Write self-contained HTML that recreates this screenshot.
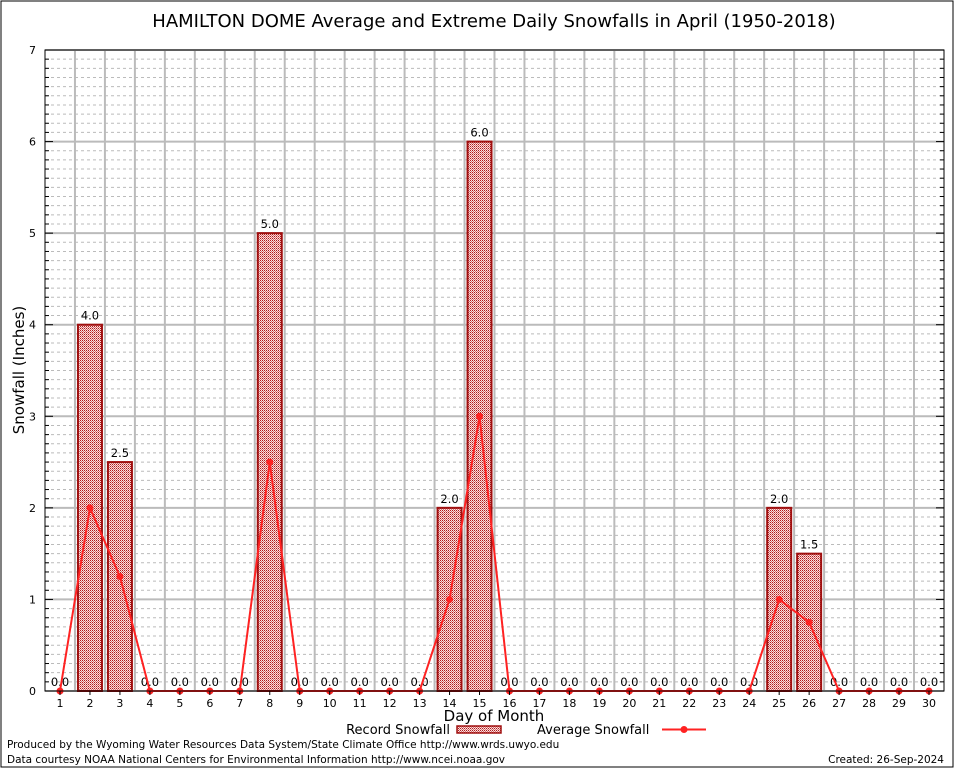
<!DOCTYPE html>
<html><head><meta charset="utf-8"><style>
body{margin:0;background:#fff;font-family:"DejaVu Sans","Liberation Sans",sans-serif}
svg text{font-family:"DejaVu Sans","Liberation Sans",sans-serif}
</style></head><body>
<svg id="c" width="954" height="768">
<defs><pattern id="dots" width="2" height="2" patternUnits="userSpaceOnUse">
<rect width="2" height="2" fill="#f8e0e0"/><rect width="1" height="1" fill="#b01818"/><rect x="1" y="1" width="1" height="1" fill="#d87070"/></pattern></defs>
<rect x="1" y="1" width="952" height="766" fill="#fff" stroke="#000"/>
<text x="494" y="27" font-size="18" text-anchor="middle">HAMILTON DOME Average and Extreme Daily Snowfalls in April (1950-2018)</text>
<g id="grid"></g><g id="bars"></g><g id="line"></g><g id="axes"></g>
<text x="24" y="370" font-size="15" text-anchor="middle" transform="rotate(-90 24 370)">Snowfall (Inches)</text>
<text x="494" y="721" font-size="15" text-anchor="middle">Day of Month</text>
<g>
<text x="450" y="734" font-size="13" text-anchor="end">Record Snowfall</text>
<rect x="457" y="726" width="44" height="7" fill="url(#dots)" stroke="#a01010" stroke-width="1.5"/>
<text x="537" y="734" font-size="13">Average Snowfall</text>
<line x1="662" y1="729.5" x2="706" y2="729.5" stroke="#f22" stroke-width="2"/>
<circle cx="684" cy="729.5" r="3.5" fill="#f22"/>
</g>
<text x="7" y="748" font-size="10.5">Produced by the Wyoming Water Resources Data System/State Climate Office http://www.wrds.uwyo.edu</text>
<text x="7" y="763" font-size="10.5">Data courtesy NOAA National Centers for Environmental Information http://www.ncei.noaa.gov</text>
<text x="944" y="763" font-size="10.5" text-anchor="end">Created: 26-Sep-2024</text>
</svg>
<script>
const days=[1,2,3,4,5,6,7,8,9,10,11,12,13,14,15,16,17,18,19,20,21,22,23,24,25,26,27,28,29,30];
const recordSnow=[0,4.0,2.5,0,0,0,0,5.0,0,0,0,0,0,2.0,6.0,0,0,0,0,0,0,0,0,0,2.0,1.5,0,0,0,0];
const avgSnow=[0,2.0,1.25,0,0,0,0,2.5,0,0,0,0,0,1.0,3.0,0,0,0,0,0,0,0,0,0,1.0,0.75,0,0,0,0];
const yTicks=[0,1,2,3,4,5,6,7];
const L=45,R=944,T=50,B=691;
const x=d=>60+(d-1)*(869/29);
const y=v=>B-v*(B-T)/7;
const NS='http://www.w3.org/2000/svg';
function mk(t,a,p){const e=document.createElementNS(NS,t);for(const k in a)e.setAttribute(k,a[k]);p.appendChild(e);return e;}
const g=document.getElementById('grid'),bg=document.getElementById('bars'),lg=document.getElementById('line'),ax=document.getElementById('axes');
for(let i=1;i<70;i++){if(i%10)mk('line',{x1:L,x2:R,y1:y(i/10),y2:y(i/10),stroke:'#bbb','stroke-dasharray':'3,3','stroke-width':1},g);}
yTicks.forEach(t=>{mk('line',{x1:L,x2:R,y1:y(t),y2:y(t),stroke:'#bbb','stroke-width':2},g);
const tx=mk('text',{x:L-9,y:y(t)+4,'font-size':11,'text-anchor':'end'},ax);tx.textContent=t;


mk('line',{x1:L,x2:L+8,y1:y(t),y2:y(t),stroke:'#000'},ax);mk('line',{x1:R,x2:R-8,y1:y(t),y2:y(t),stroke:'#000'},ax);});
for(let i=1;i<70;i++){if(i%10){mk('line',{x1:L,x2:L+4,y1:y(i/10),y2:y(i/10),stroke:'#000'},ax);mk('line',{x1:R,x2:R-4,y1:y(i/10),y2:y(i/10),stroke:'#000'},ax);}}
for(let d=1;d<=31;d++){const xx=x(d)-15;if(xx>L+1&&xx<R-1)mk('line',{x1:xx,x2:xx,y1:T,y2:B,stroke:'#bbb','stroke-width':2},g);}
mk('rect',{x:L,y:T,width:R-L,height:B-T,fill:'none',stroke:'#000'},ax);
days.forEach((d,i)=>{
const v=recordSnow[i];
if(v>0){const r=mk('rect',{x:x(d)-12,y:y(v),width:24,height:B-y(v),fill:'url(#dots)',stroke:'#a01010','stroke-width':2},bg);

}
const t=mk('text',{x:x(d),y:y(v)-5,'font-size':11.5,'text-anchor':'middle'},bg);t.textContent=v.toFixed(1);


const xl=mk('text',{x:x(d),y:B+16,'font-size':11,'text-anchor':'middle','font-family':'Liberation Serif'},ax);xl.textContent=d;


mk('line',{x1:x(d),x2:x(d),y1:B,y2:B+4,stroke:'#000'},ax);
});
const pl=mk('polyline',{points:days.map((d,i)=>x(d)+','+y(avgSnow[i])).join(' '),fill:'none',stroke:'#f22','stroke-width':2},lg);


days.forEach((d,i)=>{const c=mk('circle',{cx:x(d),cy:y(avgSnow[i]),r:3.5,fill:'#f22'},lg);

});
</script>
</body></html>
